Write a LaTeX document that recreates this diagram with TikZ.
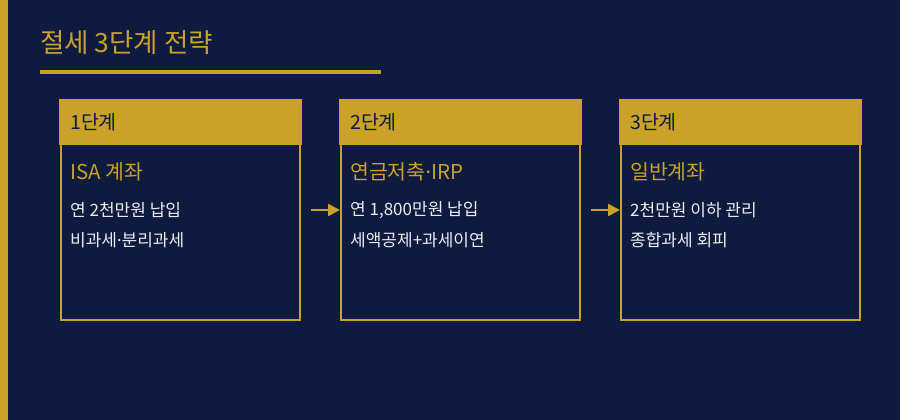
\documentclass[tikz,border=0pt]{standalone}
\usepackage{fontspec}
\setmainfont{Noto Sans CJK KR}
\newfontfamily\dotfont{Noto Sans}
\newcommand{\mdot}{{\dotfont ·}}
\usetikzlibrary{arrows.meta}
\definecolor{bgnavy}{HTML}{0E1A3E}
\definecolor{gold}{HTML}{C9A227}
\definecolor{softwhite}{HTML}{ECEDF2}
\tikzset{
  titletext/.style={anchor=west, inner sep=0pt, text=gold, font=\fontsize{26.5}{30}\selectfont},
  stepbox/.style={draw=gold, line width=2pt, fill=bgnavy, minimum width=239pt, minimum height=219pt, inner sep=0pt},
  headtext/.style={anchor=west, inner sep=0pt, text=bgnavy, font=\fontsize{19.5}{22}\selectfont},
  subtext/.style={anchor=west, inner sep=0pt, text=gold, font=\fontsize{20.5}{24}\selectfont},
  bodytext/.style={anchor=west, inner sep=0pt, text=softwhite, font=\fontsize{17}{20}\selectfont},
  flowarrow/.style={draw=gold, line width=2.5pt, -{Triangle[length=12pt,width=12pt]}, shorten <=10pt},
}
\begin{document}
\begin{tikzpicture}[x=1pt,y=-1pt]
\fill[bgnavy] (0,0) rectangle (900,420);
\useasboundingbox (0,0) rectangle (900,420);
\fill[gold] (0,0) rectangle (8,420);
\node[titletext] (title) at (40,43) {절세 3단계 전략};
\fill[gold] (40,70) rectangle (381,74);

\foreach \i/\x in {1/180.5, 2/460.5, 3/740.5} {
  \node[stepbox] (b\i) at (\x,210) {};
  \fill[gold] ([xshift=-1pt,yshift=1pt]b\i.north west) rectangle ([xshift=1pt,yshift=-45pt]b\i.north east);
}

\node[headtext] (h1) at (70,122) {1단계};
\node[subtext] (s1) at (70,172) {ISA 계좌};
\node[bodytext] (l1a) at (70,210) {연 2천만원 납입};
\node[bodytext] (l1b) at (70,240) {비과세\mdot 분리과세};

\node[headtext] (h2) at (350,122) {2단계};
\node[subtext] (s2) at (350,172) {연금저축\mdot IRP};
\node[bodytext] (l2a) at (350,210) {연 1,800만원 납입};
\node[bodytext] (l2b) at (350,240) {세액공제+과세이연};

\node[headtext] (h3) at (630,122) {3단계};
\node[subtext] (s3) at (630,172) {일반계좌};
\node[bodytext] (l3a) at (630,210) {2천만원 이하 관리};
\node[bodytext] (l3b) at (630,240) {종합과세 회피};

\draw[flowarrow] (b1.east) -- (b2.west);
\draw[flowarrow] (b2.east) -- (b3.west);
\end{tikzpicture}
\end{document}
